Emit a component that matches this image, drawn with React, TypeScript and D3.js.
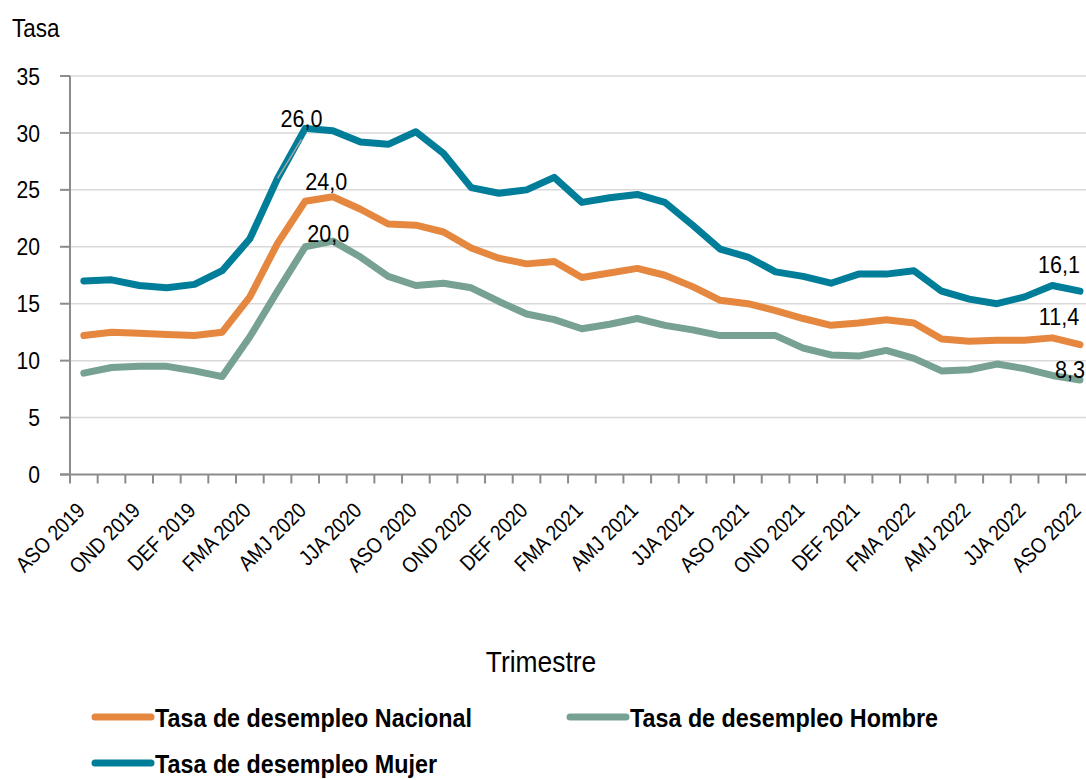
import * as d3 from 'd3';

// trimestres móviles
const categories = [
    'ASO 2019', 'SON 2019', 'OND 2019', 'NDE 2019', 'DEF 2019', 'EFM 2020', 'FMA 2020', 'MAM 2020',
    'AMJ 2020', 'MJJ 2020', 'JJA 2020', 'JAS 2020', 'ASO 2020', 'SON 2020', 'OND 2020', 'NDE 2020',
    'DEF 2020', 'EFM 2021', 'FMA 2021', 'MAM 2021', 'AMJ 2021', 'MJJ 2021', 'JJA 2021', 'JAS 2021',
    'ASO 2021', 'SON 2021', 'OND 2021', 'NDE 2021', 'DEF 2021', 'EFM 2022', 'FMA 2022', 'MAM 2022',
    'AMJ 2022', 'MJJ 2022', 'JJA 2022', 'JAS 2022', 'ASO 2022',
];

const nacional = [
    12.2, 12.5, 12.4, 12.3, 12.2, 12.5, 15.6, 20.3, 24.0, 24.4, 23.3, 22.0, 21.9, 21.3, 19.9, 19.0,
    18.5, 18.7, 17.3, 17.7, 18.1, 17.5, 16.5, 15.3, 15.0, 14.4, 13.7, 13.1, 13.3, 13.6, 13.3, 11.9,
    11.7, 11.8, 11.8, 12.0, 11.4,
];
const hombre = [
    8.9, 9.4, 9.5, 9.5, 9.1, 8.6, 12.1, 16.1, 20.0, 20.5, 19.1, 17.4, 16.6, 16.8, 16.4, 15.2,
    14.1, 13.6, 12.8, 13.2, 13.7, 13.1, 12.7, 12.2, 12.2, 12.2, 11.1, 10.5, 10.4, 10.9, 10.2, 9.1,
    9.2, 9.7, 9.3, 8.7, 8.3,
];
const mujer = [
    17.0, 17.1, 16.6, 16.4, 16.7, 17.9, 20.7, 26.0, 30.4, 30.2, 29.2, 29.0, 30.1, 28.2, 25.2, 24.7,
    25.0, 26.1, 23.9, 24.3, 24.6, 23.9, 21.9, 19.8, 19.1, 17.8, 17.4, 16.8, 17.6, 17.6, 17.9, 16.1,
    15.4, 15.0, 15.6, 16.6, 16.1,
];

const yTicks = [0, 5, 10, 15, 20, 25, 30, 35];

const seriesNames = ['Tasa de desempleo Nacional', 'Tasa de desempleo Hombre', 'Tasa de desempleo Mujer'];
const seriesValues = [nacional, hombre, mujer];
const colors = ['#E5873F', '#77A193', '#007D99'];

// etiquetas de datos: serie, índice, texto
const labelSeries = [2, 0, 1, 2, 0, 1];
const labelIndex = [7, 8, 8, 36, 36, 36];
const labelText = ['26,0', '24,0', '20,0', '16,1', '11,4', '8,3'];
// desplazamientos a mano (como en la hoja original)
const labelShift = [[24, -51], [21, -11], [23, -5], [-21, -18], [-21, -20], [-10, -2]];

const font = "'Liberation Sans', Arial, sans-serif";
const NARROW = 0.88; // no hay fuente condensada: se estrecha Liberation Sans

// texto estrecho anclado en (x, y)
const NText = ({
    x, y, rotate = 0, children, ...rest
}) => (
    <g transform={`translate(${x},${y}) rotate(${rotate}) scale(${NARROW},1)`}>
        <text x={0} y={0} fill="#000" {...rest}>{children}</text>
    </g>
);

export default function App() {
    const width = 1086;
    const height = 780;
    const left = 70;
    const step = 27.67;

    const x = d3.scaleBand().domain(categories).range([left, left + step * categories.length]);
    const y = d3.scaleLinear().domain([0, 35]).range([474.5, 76]);
    const cx = (i) => x(categories[i]) + x.bandwidth() / 2;

    const line = d3.line<number>()
        .x((_, i) => cx(i))
        .y((d) => y(d));

    const tickXs = d3.range(categories.length + 1).map((i) => left + i * x.step());

    return (
        <svg
            width={width}
            height={height}
            style={{ position: 'absolute', top: 0, left: 0, background: '#fff' }}
            fontFamily={font}
        >
            <NText x={12} y={37} fontSize={25.5}>Tasa</NText>

            {/* rejilla + marcas del eje y */}
            {yTicks.map((t) => (
                <g key={t}>
                    {t > 0 && (
                        <line x1={left} x2={width} y1={y(t)} y2={y(t)} stroke="#D9D9D9" strokeWidth={1.5} />
                    )}
                    <line x1={left - 10} x2={left} y1={y(t)} y2={y(t)} stroke="#8C8C8C" strokeWidth={2} />
                    <NText x={40} y={y(t)} dy="0.36em" textAnchor="end" fontSize={24}>{t}</NText>
                </g>
            ))}

            {/* ejes */}
            <line x1={left} x2={left} y1={y(35)} y2={y(0)} stroke="#8C8C8C" strokeWidth={2} />
            <line x1={left - 10} x2={width} y1={y(0)} y2={y(0)} stroke="#8C8C8C" strokeWidth={2} />
            {tickXs.map((tx, i) => (
                <line key={i} x1={tx} x2={tx} y1={y(0)} y2={y(0) + 9} stroke="#8C8C8C" strokeWidth={2} />
            ))}
            {categories.map((c, i) => (i % 2 === 0 ? (
                <NText
                    key={c}
                    x={cx(i) - 3}
                    y={y(0) + 32}
                    rotate={-45}
                    textAnchor="end"
                    dy="0.35em"
                    fontSize={21.5}
                >
                    {c}
                </NText>
            ) : null))}

            {/* series */}
            {seriesValues.map((vals, s) => (
                <path
                    key={s}
                    d={line(vals)}
                    fill="none"
                    stroke={colors[s]}
                    strokeWidth={7}
                    strokeLinejoin="round"
                    strokeLinecap="round"
                />
            ))}

            {/* línea guía de 26,0 */}
            <line
                x1={cx(7)}
                y1={y(mujer[7])}
                x2={cx(7) + 24}
                y2={y(mujer[7]) - 39}
                stroke="#A6A6A6"
                strokeWidth={1.5}
            />

            {labelText.map((t, k) => {
                const s = labelSeries[k];
                const i = labelIndex[k];
                return (
                    <NText
                        key={t}
                        x={cx(i) + labelShift[k][0]}
                        y={y(seriesValues[s][i]) + labelShift[k][1]}
                        textAnchor="middle"
                        fontSize={24.5}
                    >
                        {t}
                    </NText>
                );
            })}

            <NText x={541} y={672} textAnchor="middle" fontSize={30}>Trimestre</NText>

            {/* leyenda */}
            {seriesNames.map((name, s) => {
                const lx = s === 1 ? 570 : 95;
                const ly = s === 2 ? 763 : 717;
                return (
                    <g key={name}>
                        <line x1={lx} x2={lx + 56} y1={ly} y2={ly} stroke={colors[s]} strokeWidth={7} strokeLinecap="round" />
                        <NText x={lx + 60} y={ly + 10} fontSize={26.5} fontWeight="bold">{name}</NText>
                    </g>
                );
            })}
        </svg>
    );
}
